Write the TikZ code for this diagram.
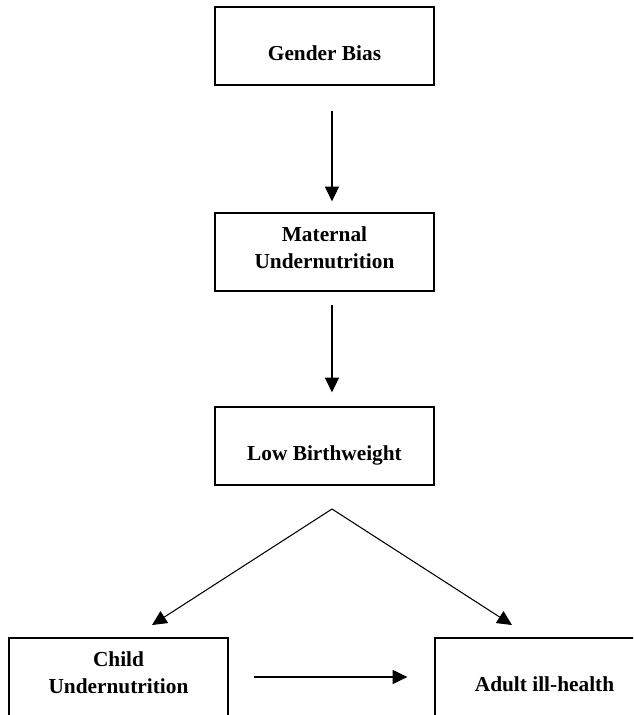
\documentclass[tikz,border=0pt]{standalone}
\usepackage{fontspec}
\setmainfont{Liberation Serif}
\usetikzlibrary{arrows.meta,positioning}
\tikzset{
  cbox/.style={draw=black,line width=1pt,minimum width=164.25pt,minimum height=58.5pt,
    inner sep=0pt,align=center,font=\bfseries\fontsize{16}{20.25}\selectfont},
  oneline/.style={cbox,text height=21pt,text depth=0pt},
  twoline/.style={cbox,text depth=6pt},
  carr/.style={-{Triangle[length=11pt,width=10.5pt]},line width=0.8pt},
}
\begin{document}
\begin{tikzpicture}[x=0.75pt,y=-0.75pt]
    \useasboundingbox (0,0) rectangle (633,715);
    \clip (0,0) rectangle (633,715);
    \node[oneline] (bias) at (324.5,46) {Gender Bias};
    \node[twoline] (mat) at (324.5,252) {Maternal\\Undernutrition};
    \node[oneline] (lbw) at (324.5,446) {Low Birthweight};
    \node[twoline] (child) at (118.5,677) {Child\\Undernutrition};
    \node[oneline] (adult) at (544.5,677) {Adult ill-health};
    \coordinate (fork) at (332,509);
    \coordinate (ctip) at (152,625);
    \coordinate (atip) at (512,625);
    \draw[carr,shorten <=18.75pt,shorten >=8.25pt] ([xshift=5.6pt]bias.south) -- ([xshift=5.6pt]mat.north);
    \draw[carr,shorten <=9.75pt,shorten >=10.5pt] ([xshift=5.6pt]mat.south) -- ([xshift=5.6pt]lbw.north);
    \draw[carr] (fork) -- (ctip);
    \draw[carr] (fork) -- (atip);
    \draw[carr,shorten <=18.75pt,shorten >=20.25pt] (child.east) -- (adult.west);
  \end{tikzpicture}
\end{document}
